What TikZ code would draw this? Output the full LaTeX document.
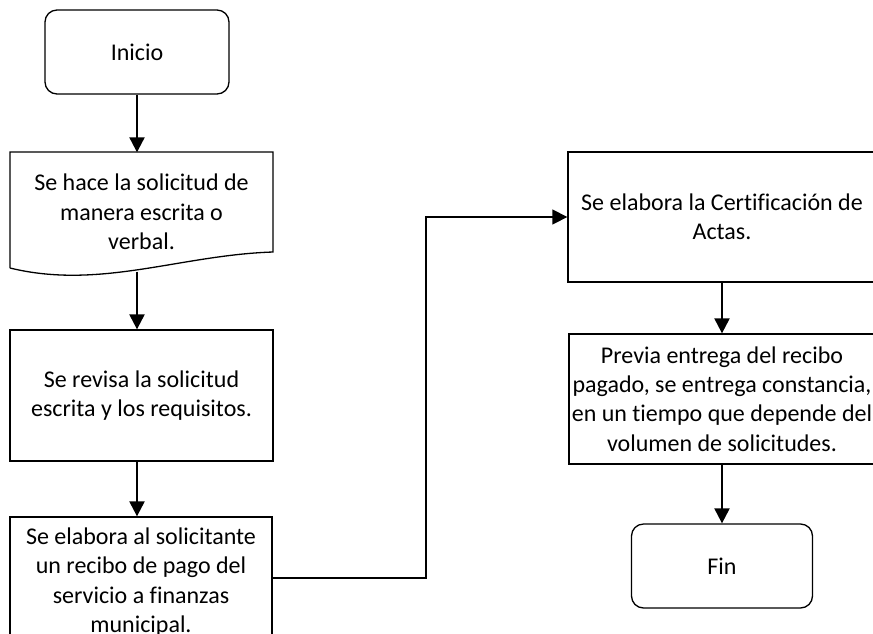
\documentclass[tikz,border=0pt]{standalone}
\usepackage{fontspec}
\setmainfont{Carlito}[Ligatures=NoCommon]
\usetikzlibrary{
  arrows.meta,
  positioning
}

\begin{document}
\begin{tikzpicture}[x=1pt,y=-1pt,every text node part/.style={align=center},
  font=\fontsize{24}{29.3}\selectfont,
  box/.style={rectangle,draw=black,fill=white,line width=1.3pt,inner sep=0pt},
  flecha/.style={-{Triangle[width=15pt,length=15pt]},line width=2.2pt}]
  \useasboundingbox (0,0) rectangle (873,633);
  \clip (0,0) rectangle (873,633);
  \node[box,rounded corners=12pt,minimum width=184pt,minimum height=84pt] (0) at (137,52) {Inicio};
  \node[rectangle,inner sep=0pt,minimum width=263pt,minimum height=119pt] (1) at (141.5,212) {Se hace la solicitud de\\manera escrita o\\verbal.};
  \draw[line width=1.3pt] (10,268) -- (10,152) -- (273,152) -- (273,252) .. controls (180,255) and (100,290) .. (10,268);
  \node[box,minimum width=263pt,minimum height=131pt] (2) at (141.5,395.5) {Se revisa la solicitud\\escrita y los requisitos.};
  \node[box,minimum width=262pt,minimum height=130pt] (3) at (141,582) {Se elabora al solicitante\\un recibo de pago del\\servicio a finanzas\\municipal.};
  \node[box,minimum width=308pt,minimum height=130pt] (4) at (722,217) {Se elabora la Certificación de\\Actas.};
  \node[box,minimum width=306pt,minimum height=130pt] (5) at (722,399) {Previa entrega del recibo\\pagado, se entrega constancia,\\en un tiempo que depende del\\volumen de solicitudes.};
  \node[box,rounded corners=12pt,minimum width=181pt,minimum height=84pt] (6) at (722,566) {Fin};
  \coordinate (7) at (426,217);
  \draw[flecha] (0) -- (0 |- 1.north);
  \draw[flecha] (1.south -| 0) -- (2.north -| 0);
  \draw[flecha] (2.south -| 0) -- (3.north -| 0);
  \draw[flecha,line width=1.3pt] ([yshift=4pt]3.east) -| (7) -- (4.west);
  \draw[flecha] (4) -- (5);
  \draw[flecha] (5) -- (6);
\end{tikzpicture}
\end{document}
